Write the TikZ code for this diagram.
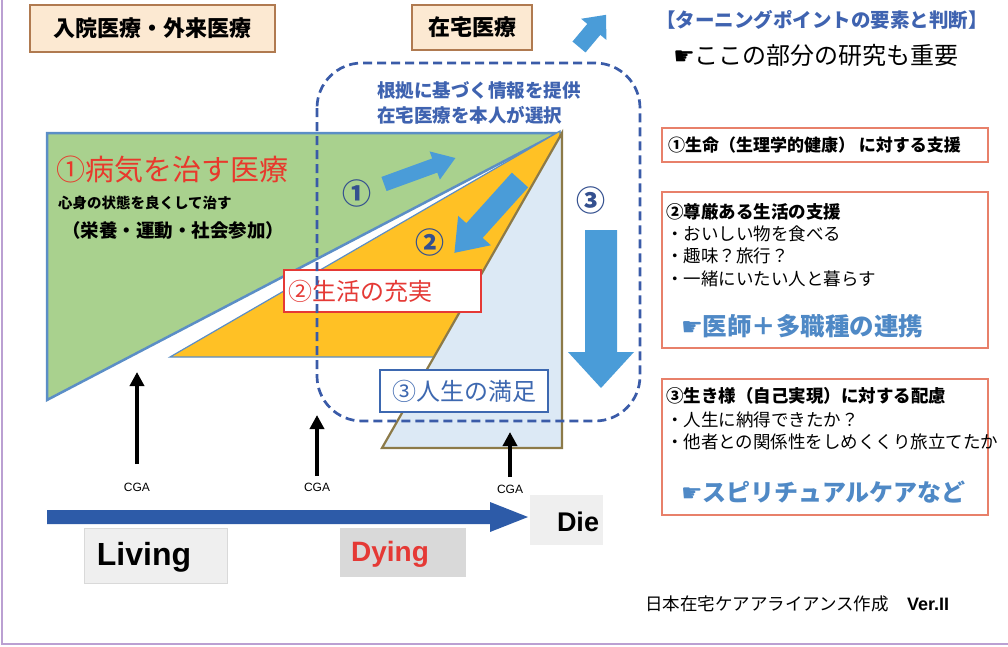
\documentclass[tikz,border=0pt]{standalone}
\usepackage{fontspec}
\setmainfont{Liberation Sans}
\newfontfamily\jp{Noto Sans CJK JP}
\newfontfamily\sym{DejaVu Sans}
\usetikzlibrary{arrows.meta}
\definecolor{peach}{HTML}{FCE9D2}
\definecolor{peachbd}{HTML}{B07A50}
\definecolor{grn}{HTML}{A9D18E}
\definecolor{stl}{HTML}{5B8EC6}
\definecolor{gold}{HTML}{FFC125}
\definecolor{lblue}{HTML}{DCE9F5}
\definecolor{olive}{HTML}{8C7A48}
\definecolor{dashb}{HTML}{3A5BA8}
\definecolor{arrb}{HTML}{4A9CD8}
\definecolor{numb}{HTML}{34508F}
\definecolor{redt}{HTML}{E8392C}
\definecolor{redbox}{HTML}{E53935}
\definecolor{blubox}{HTML}{3D68B0}
\definecolor{timeb}{HTML}{2D5BA8}
\definecolor{salmon}{HTML}{E8806A}
\definecolor{blutxt}{HTML}{3F63B0}
\definecolor{lnkb}{HTML}{4F89C6}
\definecolor{purp}{HTML}{BBA0D2}
\definecolor{boxgray}{HTML}{EFEFEF}
\definecolor{dyinggray}{HTML}{D9D9D9}
\newcommand{\blkarrow}[8]{%
  \fill[#8, shift={(#1,#2)}, rotate=#3] (0,{-#5/2}) -- ({#4-#7},{-#5/2}) -- ({#4-#7},{-#6/2}) -- (#4,0) -- ({#4-#7},{#6/2}) -- ({#4-#7},{#5/2}) -- (0,{#5/2}) -- cycle;}
\tikzset{
  every node/.style={inner sep=0pt, outer sep=0pt},
  hdrbox/.style={draw=peachbd, fill=peach, line width=1.5pt, font=\jp\bfseries\fontsize{22}{24}\selectfont},
  rbox/.style={draw=salmon, line width=1.5pt, fill=white},
  jtxt/.style={anchor=west, font=\jp\fontsize{17.5}{20}\selectfont},
  jbold/.style={anchor=west, font=\jp\bfseries\fontsize{17.5}{20}\selectfont},
  cnum/.style={font=\jp\bfseries\fontsize{29}{30}\selectfont, text=numb},
  cgalbl/.style={font=\fontsize{12}{13}\selectfont},
  cgaarrow/.style={line width=4.5pt, -{Triangle[width=14pt,length=14pt]}},
  timebox/.style={font=\bfseries}
}
\begin{document}
\begin{tikzpicture}[x=1pt,y=-1pt]
\useasboundingbox (0,0) rectangle (1008,646);
\fill[white] (0,0) rectangle (1008,646);
\draw[purp, line width=1.5pt] (2,0) -- (2,644) -- (1008,644);

% headers
\node[hdrbox, minimum width=245pt, minimum height=47pt] (h1) at (152.5,28.5) {入院医療・外来医療};
\node[hdrbox, minimum width=120pt, minimum height=45pt] (h2) at (472,27.5) {在宅医療};
\blkarrow{579}{47}{50}{42}{17}{33}{19}{arrb}

% triangles
\filldraw[fill=grn, draw=stl, line width=2.5pt, line join=miter] (47,133) -- (558,133) -- (47,400) -- cycle;
\filldraw[fill=gold, draw=stl, line width=1.2pt] (170,357) -- (560,131) -- (560,357) -- cycle;
\filldraw[fill=lblue, draw=olive, line width=2.2pt] (382,448) -- (562,133) -- (562,448) -- cycle;

% left texts
\node[anchor=west, font=\jp\fontsize{29}{32}\selectfont, text=redt] (t1) at (56,170) {①病気を治す医療};
\node[anchor=west, font=\jp\bfseries\fontsize{14.5}{16}\selectfont] (t2) at (58,203) {心身の状態を良くして治す};
\node[anchor=west, font=\jp\bfseries\fontsize{18.5}{20}\selectfont] (t3) at (62,230) {（栄養・運動・社会参加）};

% labelled boxes
\node[draw=redbox, fill=white, line width=2.5pt, minimum width=197pt, minimum height=42pt] (b2) at (382.5,291) {};
\node[anchor=west, font=\jp\fontsize{24}{26}\selectfont, text=redbox] (b2t) at (288,291) {②生活の充実};
\node[draw=blubox, fill=white, line width=2.5pt, minimum width=168pt, minimum height=42pt] (b3) at (464,391) {};
\node[font=\jp\fontsize{24}{26}\selectfont, text=blubox] (b3t) at (464,391) {③人生の満足};

% block arrows and numbers
\blkarrow{384}{184}{20}{76}{15}{30}{22}{arrb}
\blkarrow{520}{180}{228}{98}{22}{44}{30}{arrb}
\blkarrow{601}{230}{-90}{158}{32}{66}{36}{arrb}
\node[cnum] (n1) at (357,193) {①};
\node[cnum] (n2) at (430,242) {②};
\node[cnum] (n3) at (591,200) {③};

% dashed region
\draw[dashb, line width=2.7pt, dash pattern=on 9pt off 5pt, rounded corners=45pt] (317,63) rectangle (640,421);
\node[anchor=west, font=\jp\bfseries\fontsize{18.5}{20}\selectfont, text=blutxt] (q1) at (377,90) {根拠に基づく情報を提供};
\node[anchor=west, font=\jp\bfseries\fontsize{18.5}{20}\selectfont, text=blutxt] (q2) at (377,115) {在宅医療を本人が選択};

% CGA arrows
\node[cgalbl] (c1) at (137,487) {CGA};
\node[cgalbl] (c2) at (317,487) {CGA};
\node[cgalbl] (c3) at (510,489) {CGA};
\coordinate (c1b) at (137,464); \coordinate (c1t) at (137,372);
\coordinate (c2b) at (317,476); \coordinate (c2t) at (317,415);
\coordinate (c3b) at (510,477); \coordinate (c3t) at (510,432);
\draw[cgaarrow] (c1b) -- (c1t);
\draw[cgaarrow] (c2b) -- (c2t);
\draw[cgaarrow] (c3b) -- (c3t);

% timeline
\fill[timeb] (47,510) -- (490,510) -- (490,502) -- (528,517) -- (490,532) -- (490,524) -- (47,524) -- cycle;
\node[fill=boxgray, minimum width=73pt, minimum height=50pt] (die) at (566.5,520) {};
\node[font=\bfseries\fontsize{27}{30}\selectfont] (diet) at (578,522) {Die};
\node[fill=boxgray, draw=black!15, minimum width=143pt, minimum height=55pt] (liv) at (155.5,555.5) {};
\node[font=\bfseries\fontsize{32}{34}\selectfont] (livt) at (144,557) {Living};
\node[fill=dyinggray, minimum width=126pt, minimum height=49pt] (dy) at (403,552.5) {};
\node[font=\bfseries\fontsize{28}{30}\selectfont, text=redbox] (dyt) at (390,554) {Dying};

% right side
\node[font=\jp\bfseries\fontsize{19.5}{22}\selectfont, text=blutxt] (r0) at (822,20) {【ターニングポイントの要素と判断】};
\node[font=\jp\fontsize{24}{26}\selectfont] (r00) at (816,55) {{\sym ☛}ここの部分の研究も重要};

\node[rbox, minimum width=326pt, minimum height=34pt] (rb1) at (825,145) {};
\node[jbold, font=\jp\bfseries\fontsize{17}{20}\selectfont] (rb1t) at (668,145) {①生命（生理学的健康） に対する支援};

\node[rbox, minimum width=326pt, minimum height=156pt] (rb2) at (825,270) {};
\node[jbold] (rb2a) at (666,212) {②尊厳ある生活の支援};
\node[jtxt] (rb2b) at (666,234) {・おいしい物を食べる};
\node[jtxt] (rb2c) at (666,256) {・趣味？旅行？};
\node[jtxt] (rb2d) at (666,279) {・一緒にいたい人と暮らす};
\node[anchor=west, font=\jp\bfseries\fontsize{24.5}{26}\selectfont, text=lnkb] (rb2e) at (681,326) {{\sym ☛}医師＋多職種の連携};

\node[rbox, minimum width=326pt, minimum height=136pt] (rb3) at (825,447) {};
\node[jbold] (rb3a) at (666,396) {③生き様（自己実現）に対する配慮};
\node[jtxt] (rb3b) at (666,420) {・人生に納得できたか？};
\node[jtxt] (rb3c) at (666,442) {・他者との関係性をしめくくり旅立てたか};
\node[anchor=west, font=\jp\bfseries\fontsize{24}{26}\selectfont, text=lnkb] (rb3d) at (681,492) {{\sym ☛}スピリチュアルケアなど};

% footer
\node[anchor=west, font=\jp\fontsize{17.5}{20}\selectfont] (f1) at (645,604) {日本在宅ケアアライアンス作成};
\node[anchor=west, font=\bfseries\fontsize{18}{20}\selectfont] (f2) at (907,604) {Ver.II};
\end{tikzpicture}
\end{document}
